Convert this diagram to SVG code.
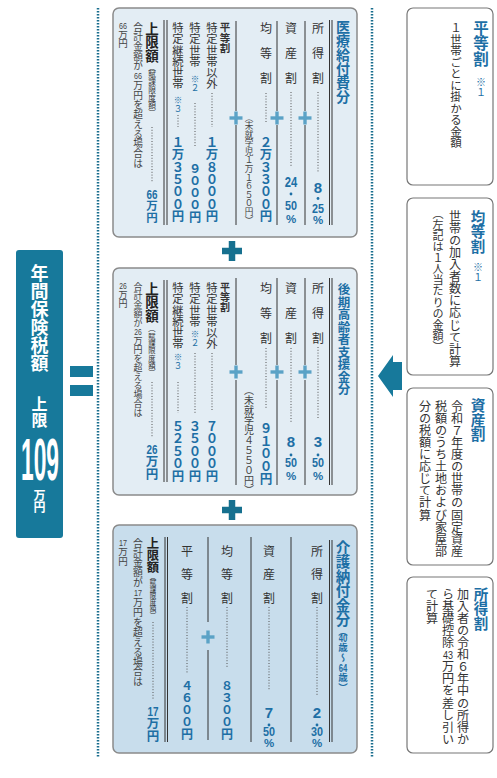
<svg xmlns="http://www.w3.org/2000/svg" width="497" height="778" viewBox="0 0 497 778">
<style>
.v{writing-mode:vertical-rl;font-family:"Noto Sans CJK JP","Noto Sans CJK SC",sans-serif}
.lb{fill:#333;font-size:12px;letter-spacing:13.3px}
.lb3{fill:#333;font-size:12px;letter-spacing:11.5px}
.t{fill:#333}
.g{fill:#444}
.b{font-weight:bold}
.tl{fill:#1d6fa5;font-weight:bold}
.sm{fill:#1d6fa5}
.n{font-family:"Liberation Sans",Arial,sans-serif;font-weight:bold;fill:#1d6fa5;text-anchor:middle}
.pc{font-family:"Liberation Sans",Arial,sans-serif;font-weight:bold;fill:#1d6fa5;text-anchor:middle;font-size:11.5px}
.ng{font-family:"Liberation Sans",Arial,sans-serif;fill:#444;text-anchor:middle}
.box{fill:#e3edf4;stroke:#8a8a8a;stroke-width:1.5}
.box3{fill:#c8ddec;stroke:#8a8a8a;stroke-width:1.5}
.rb{fill:#fff;stroke:#777;stroke-width:1.2}
.sep{stroke:#333;stroke-width:1}
.dt{stroke:#555;stroke-width:1;stroke-dasharray:1 1.8}
.dl{stroke:#1a6e8e;stroke-width:2.5;stroke-dasharray:1.6 1.4;fill:none}
.pl{stroke:#5ba2c6;stroke-width:3.4}
.bp{stroke:#16708f;stroke-width:6.5}
.w{fill:#fff;font-weight:bold}
</style>
<defs>
<g id="sp"><line class="pl" x1="-6.5" y1="0" x2="6.5" y2="0"/><line class="pl" x1="0" y1="-6.5" x2="0" y2="6.5"/></g>
<g id="bigplus"><line class="bp" x1="-10" y1="0" x2="10" y2="0"/><line class="bp" x1="0" y1="-10" x2="0" y2="10"/></g>
</defs>

<g id="dotted-lines">
<line class="dl" x1="98" y1="8" x2="98" y2="758"/>
<line class="dl" x1="372" y1="8" x2="372" y2="758"/>
</g>

<g id="total">
<rect x="16" y="250" width="47" height="288" rx="3" fill="#17799b"/>
<text class="v w" x="39.5" y="264" font-size="18">年間保険税額</text>
<text class="v w" x="39.5" y="396" font-size="16">上限</text>
<text x="40" y="480" font-family="Liberation Sans,Arial,sans-serif" font-weight="bold" font-size="60" fill="#fff" text-anchor="middle" textLength="38" lengthAdjust="spacingAndGlyphs">109</text>
<text class="v w" x="39.5" y="489" font-size="12">万円</text>
</g>

<g id="equals" fill="#17799b">
<rect x="70" y="366" width="23" height="11"/>
<rect x="70" y="385" width="23" height="11"/>
</g>

<g id="iryo">
<rect class="box" x="113" y="8" width="244" height="229" rx="6"/>
<text class="v tl" x="343" y="20" font-size="14">医療給付費分</text>
<line class="sep" x1="329.5" y1="20" x2="329.5" y2="225"/><line class="sep" x1="332" y1="20" x2="332" y2="225"/>
<text class="v lb" x="318" y="22">所得割</text>
<text class="v lb" x="291" y="22">資産割</text>
<text class="v lb" x="266" y="22">均等割</text>
<line class="dt" x1="318" y1="92" x2="318" y2="173"/>
<line class="dt" x1="291" y1="92" x2="291" y2="167"/>
<line class="dt" x1="266" y1="93" x2="266" y2="123"/>
<text class="n" x="318" y="193" font-size="15">8</text>
<circle cx="318" cy="198.5" r="1.4" fill="#1d6fa5"/>
<text class="n" x="318" y="213" font-size="13.5" textLength="12" lengthAdjust="spacingAndGlyphs">25</text>
<text class="pc" x="318" y="224">%</text>
<text class="n" x="291" y="187" font-size="14" textLength="12.5" lengthAdjust="spacingAndGlyphs">24</text>
<circle cx="291" cy="194" r="1.4" fill="#1d6fa5"/>
<text class="n" x="291" y="210" font-size="13.5" textLength="12" lengthAdjust="spacingAndGlyphs">50</text>
<text class="pc" x="291" y="223">%</text>
<text class="v tl" x="266" y="136" font-size="12.4">２万３３００円</text>
<text class="v g" x="249" y="113" font-size="8.6">（未就学児１万１６５０円）</text>
<line class="sep" x1="305" y1="21" x2="305" y2="111"/><line class="sep" x1="305" y1="125" x2="305" y2="225"/>
<line class="sep" x1="277" y1="21" x2="277" y2="111"/><line class="sep" x1="277" y1="125" x2="277" y2="225"/>
<line class="sep" x1="236" y1="21" x2="236" y2="111"/><line class="sep" x1="236" y1="125" x2="236" y2="225"/>
<use href="#sp" x="305" y="118"/><use href="#sp" x="277" y="118"/><use href="#sp" x="236" y="118"/>
<text class="v t b" x="225" y="22" font-size="10.5">平等割</text>
<text class="v t" x="212" y="22" font-size="11.3">特定世帯以外</text>
<line class="dt" x1="212" y1="93" x2="212" y2="127"/>
<text class="v tl" x="212" y="136" font-size="12.4">１万８０００円</text>
<text class="v t" x="195" y="22" font-size="11.3">特定世帯</text>
<text class="v sm" x="195" y="75" font-size="8.5">※２</text>
<line class="dt" x1="195" y1="103" x2="195" y2="147"/>
<text class="v tl" x="195" y="162" font-size="12.2">９０００円</text>
<text class="v t" x="178" y="22" font-size="11.3">特定継続世帯</text>
<text class="v sm" x="178" y="96" font-size="8.5">※３</text>
<line class="dt" x1="178" y1="115" x2="178" y2="127"/>
<text class="v tl" x="178" y="136" font-size="12.4">１万３５００円</text>
<line class="sep" x1="164" y1="20" x2="164" y2="225"/><line class="sep" x1="167" y1="20" x2="167" y2="225"/>
<text class="v b" x="152" y="22" font-size="13.5" fill="#222">上限額</text>
<text class="v t" x="152" y="63" font-size="7.7">（賦課限度額）</text>
<line class="dt" x1="152" y1="127" x2="152" y2="183"/>
<text class="n" x="152" y="199" font-size="13.5" textLength="11" lengthAdjust="spacingAndGlyphs">66</text>
<text class="v tl" x="152" y="200" font-size="11.5">万円</text>
<text class="v g" x="138" y="22" font-size="9.7">合計金額が</text>
<text class="ng" x="138" y="79" font-size="9.5" textLength="8" lengthAdjust="spacingAndGlyphs">66</text>
<text class="v g" x="138" y="80.5" font-size="9.7">万円を超える場合は</text>
<text class="ng" x="123" y="29" font-size="9.5" textLength="8" lengthAdjust="spacingAndGlyphs">66</text>
<text class="v g" x="123" y="29.5" font-size="9.5">万円</text>
</g>

<g id="bigplus-1"><use href="#bigplus" x="232" y="251"/></g>

<g id="kouki">
<rect class="box" x="113" y="268" width="244" height="227" rx="6"/>
<text class="v tl" x="344" y="283" font-size="12.5">後期高齢者支援金分</text>
<line class="sep" x1="329.5" y1="278" x2="329.5" y2="485"/><line class="sep" x1="332" y1="278" x2="332" y2="485"/>
<text class="v lb" x="318" y="282">所得割</text>
<text class="v lb" x="291" y="282">資産割</text>
<text class="v lb" x="266" y="282">均等割</text>
<line class="dt" x1="318" y1="347" x2="318" y2="418"/>
<line class="dt" x1="291" y1="348" x2="291" y2="422"/>
<line class="dt" x1="266" y1="348" x2="266" y2="408"/>
<text class="n" x="318" y="447" font-size="15">3</text>
<circle cx="318" cy="455" r="1.4" fill="#1d6fa5"/>
<text class="n" x="318" y="467" font-size="13.5" textLength="12" lengthAdjust="spacingAndGlyphs">50</text>
<text class="pc" x="318" y="480">%</text>
<text class="n" x="291" y="447" font-size="15">8</text>
<circle cx="291" cy="455" r="1.4" fill="#1d6fa5"/>
<text class="n" x="291" y="467" font-size="13.5" textLength="12" lengthAdjust="spacingAndGlyphs">50</text>
<text class="pc" x="291" y="480">%</text>
<text class="v tl" x="266" y="422" font-size="12.6">９１００円</text>
<text class="v g" x="249" y="385" font-size="10">（未就学児４５５０円）</text>
<line class="sep" x1="305" y1="278" x2="305" y2="365"/><line class="sep" x1="305" y1="380" x2="305" y2="485"/>
<line class="sep" x1="277" y1="278" x2="277" y2="365"/><line class="sep" x1="277" y1="380" x2="277" y2="485"/>
<line class="sep" x1="236" y1="278" x2="236" y2="365"/><line class="sep" x1="236" y1="380" x2="236" y2="485"/>
<use href="#sp" x="305" y="372"/><use href="#sp" x="277" y="372"/><use href="#sp" x="236" y="372"/>
<text class="v t b" x="225" y="282" font-size="10">平等割</text>
<text class="v t" x="212" y="282" font-size="11.3">特定世帯以外</text>
<line class="dt" x1="212" y1="353" x2="212" y2="410"/>
<text class="v tl" x="212" y="420" font-size="12.4">７０００円</text>
<text class="v t" x="195" y="282" font-size="11.3">特定世帯</text>
<text class="v sm" x="195" y="330" font-size="8.5">※２</text>
<line class="dt" x1="195" y1="353" x2="195" y2="413"/>
<text class="v tl" x="195" y="420" font-size="12.4">３５００円</text>
<text class="v t" x="178" y="282" font-size="11.3">特定継続世帯</text>
<text class="v sm" x="178" y="353" font-size="8.5">※３</text>
<line class="dt" x1="178" y1="382" x2="178" y2="413"/>
<text class="v tl" x="178" y="420" font-size="12.4">５２５０円</text>
<line class="sep" x1="164" y1="280" x2="164" y2="482"/><line class="sep" x1="167" y1="280" x2="167" y2="482"/>
<text class="v b" x="152" y="282" font-size="13.5" fill="#222">上限額</text>
<text class="v t" x="152" y="325" font-size="7.3">（賦課限度額）</text>
<line class="dt" x1="152" y1="382" x2="152" y2="437"/>
<text class="n" x="152" y="454" font-size="13.5" textLength="11" lengthAdjust="spacingAndGlyphs">26</text>
<text class="v tl" x="152" y="455" font-size="12.5">万円</text>
<text class="v g" x="138" y="282" font-size="9">合計金額が</text>
<text class="ng" x="138" y="335" font-size="9" textLength="7.5" lengthAdjust="spacingAndGlyphs">26</text>
<text class="v g" x="138" y="336" font-size="9">万円を超える場合は</text>
<text class="ng" x="123" y="289" font-size="9" textLength="7.5" lengthAdjust="spacingAndGlyphs">26</text>
<text class="v g" x="123" y="290" font-size="9">万円</text>
</g>

<g id="bigplus-2"><use href="#bigplus" x="232" y="510"/></g>

<g id="kaigo">
<rect class="box3" x="113" y="525" width="244" height="228" rx="6"/>
<text class="v tl" x="343" y="540" font-size="14.5">介護納付金分</text>
<text class="v tl" x="343" y="627" font-size="9.5">（</text>
<text class="n" x="343" y="642" font-size="10" textLength="8.5" lengthAdjust="spacingAndGlyphs">40</text>
<text class="v tl" x="343" y="643" font-size="9.5">歳～</text>
<text class="n" x="343" y="672" font-size="10" textLength="8.5" lengthAdjust="spacingAndGlyphs">64</text>
<text class="v tl" x="343" y="673" font-size="9.5">歳）</text>
<line class="sep" x1="329.5" y1="540" x2="329.5" y2="742"/><line class="sep" x1="332" y1="540" x2="332" y2="742"/>
<text class="v lb3" x="317" y="545">所得割</text>
<text class="v lb3" x="269" y="545">資産割</text>
<text class="v lb3" x="227" y="545">均等割</text>
<text class="v lb3" x="187" y="545">平等割</text>
<line class="dt" x1="317" y1="607" x2="317" y2="695"/>
<line class="dt" x1="269" y1="607" x2="269" y2="690"/>
<line class="dt" x1="227" y1="607" x2="227" y2="667"/>
<line class="dt" x1="187" y1="607" x2="187" y2="673"/>
<text class="n" x="317" y="718" font-size="15">2</text>
<circle cx="317" cy="725" r="1.4" fill="#1d6fa5"/>
<text class="n" x="317" y="736" font-size="13.5" textLength="12" lengthAdjust="spacingAndGlyphs">30</text>
<text class="pc" x="317" y="747">%</text>
<text class="n" x="269" y="718" font-size="15">7</text>
<circle cx="269" cy="725" r="1.4" fill="#1d6fa5"/>
<text class="n" x="269" y="736" font-size="13.5" textLength="12" lengthAdjust="spacingAndGlyphs">50</text>
<text class="pc" x="269" y="747">%</text>
<text class="v tl" x="227" y="680" font-size="12">８３００円</text>
<text class="v tl" x="187" y="680" font-size="12">４６００円</text>
<line class="sep" x1="291" y1="537" x2="291" y2="742"/>
<line class="sep" x1="251" y1="537" x2="251" y2="742"/>
<line class="sep" x1="208" y1="537" x2="208" y2="622"/><line class="sep" x1="208" y1="650" x2="208" y2="740"/>
<use href="#sp" x="208" y="637"/>
<line class="sep" x1="165" y1="537" x2="165" y2="742"/><line class="sep" x1="167.5" y1="537" x2="167.5" y2="742"/>
<text class="v b" x="153" y="537" font-size="12.3" fill="#222">上限額</text>
<text class="v t" x="153" y="573" font-size="6.5">（賦課限度額）</text>
<line class="dt" x1="153" y1="622" x2="153" y2="700"/>
<text class="n" x="153" y="716" font-size="13.5" textLength="11" lengthAdjust="spacingAndGlyphs">17</text>
<text class="v tl" x="153" y="717" font-size="12.5">万円</text>
<text class="v g" x="138" y="538" font-size="9.9">合計金額が</text>
<text class="ng" x="138" y="596" font-size="9.5" textLength="8" lengthAdjust="spacingAndGlyphs">17</text>
<text class="v g" x="138" y="597.5" font-size="9.9">万円を超える場合は</text>
<text class="ng" x="123" y="546" font-size="9.5" textLength="8" lengthAdjust="spacingAndGlyphs">17</text>
<text class="v g" x="123" y="547" font-size="9.5">万円</text>
</g>

<g id="arrow"><polygon points="378,376 393,355 393,362 402,362 402,390 393,390 393,397" fill="#17799b"/></g>

<g id="heitowari">
<rect class="rb" x="407" y="8" width="86" height="177" rx="6"/>
<text class="v tl" x="481" y="20" font-size="15.5">平等割</text>
<text class="v sm" x="481" y="77" font-size="10">※１</text>
<text class="v t" x="456" y="22" font-size="11.5">１世帯ごとに掛かる金額</text>
</g>
<g id="kintowari">
<rect class="rb" x="407" y="198" width="86" height="177" rx="6"/>
<text class="v tl" x="478" y="210" font-size="14.5">均等割</text>
<text class="v sm" x="478" y="262" font-size="10">※１</text>
<text class="v t" x="455" y="210" font-size="12.1">世帯の加入者数に応じて計算</text>
<text class="v t" x="438" y="208" font-size="11.1">（左記は１人当たりの金額）</text>
</g>
<g id="shisanwari">
<rect class="rb" x="407" y="388" width="86" height="177" rx="6"/>
<text class="v tl" x="478" y="398" font-size="14.7">資産割</text>
<text class="v t" x="457" y="400" font-size="12.1">令和７年度の世帯の固定資産</text>
<text class="v t" x="441" y="400" font-size="12.1">税額のうち土地および家屋部</text>
<text class="v t" x="425" y="400" font-size="12.1">分の税額に応じて計算</text>
</g>
<g id="shotokuwari">
<rect class="rb" x="407" y="577" width="86" height="176" rx="6"/>
<text class="v tl" x="481" y="587" font-size="14.5">所得割</text>
<text class="v t" x="463" y="588" font-size="12.1">加入者の令和６年中の所得か</text>
<text class="v t" x="448" y="588" font-size="12.1">ら基礎控除</text>
<text x="448" y="659" font-family="Liberation Sans,Arial,sans-serif" font-size="11" fill="#333" text-anchor="middle" textLength="10" lengthAdjust="spacingAndGlyphs">43</text>
<text class="v t" x="448" y="660.6" font-size="12.1">万円を差し引い</text>
<text class="v t" x="432" y="588" font-size="12.1">て計算</text>
</g>
</svg>
